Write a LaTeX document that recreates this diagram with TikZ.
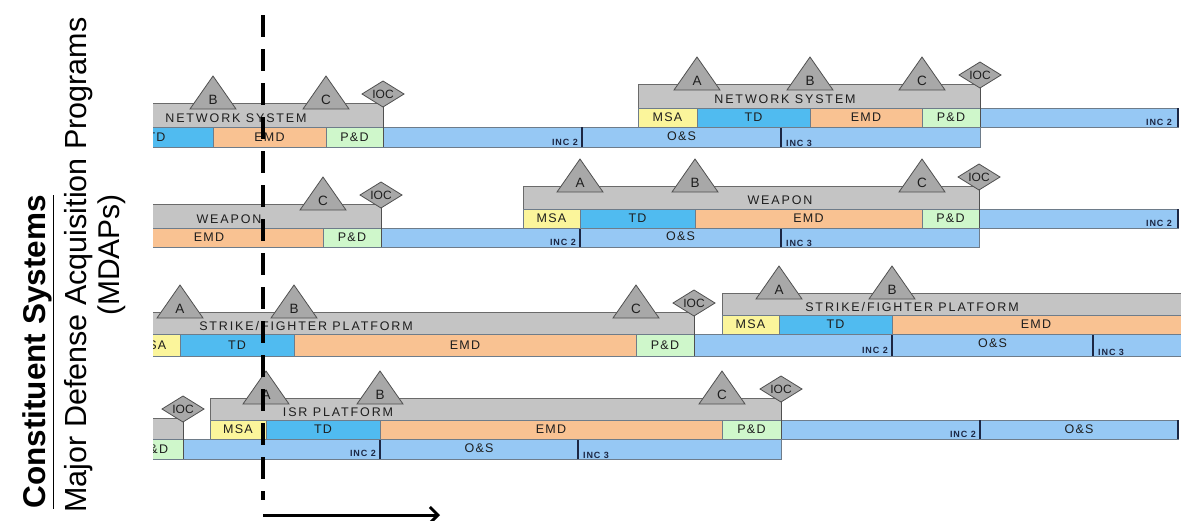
\documentclass[tikz,border=0pt]{standalone}
\usepackage{fontspec}
\setmainfont{Liberation Sans}
\usetikzlibrary{arrows.meta}
\definecolor{grayb}{HTML}{C4C4C4}
\definecolor{grayl}{HTML}{6A6A6A}
\definecolor{trig}{HTML}{A8A8A8}
\definecolor{trid}{HTML}{505050}
\definecolor{msac}{HTML}{FBF59B}
\definecolor{tdc}{HTML}{50BBF0}
\definecolor{emdc}{HTML}{F9C292}
\definecolor{pdc}{HTML}{CFF7CB}
\definecolor{incc}{HTML}{96C8F4}
\definecolor{boxl}{HTML}{6E7C8A}
\definecolor{navy}{HTML}{1C2744}
\definecolor{labc}{HTML}{1E1E1E}
\tikzset{
  graybar/.style={fill=grayb, draw=grayl, line width=0.8pt},
  msa/.style={fill=msac, draw=boxl, line width=0.6pt},
  tdph/.style={fill=tdc, draw=boxl, line width=0.6pt},
  emd/.style={fill=emdc, draw=boxl, line width=0.6pt},
  pdph/.style={fill=pdc, draw=boxl, line width=0.6pt},
  incb/.style={fill=incc, draw=boxl, line width=0.6pt},
  tri/.style={fill=trig, draw=trid, line width=0.8pt},
  dia/.style={fill=trig, draw=trid, line width=0.8pt},
  glab/.style={font=\fontsize{12.5}{12.5}\selectfont\addfontfeatures{LetterSpace=15}, text=labc, inner sep=0pt, anchor=base},
  plab/.style={font=\fontsize{12.5}{12.5}\selectfont\addfontfeatures{LetterSpace=10}, text=labc, inner sep=0pt},
  tlab/.style={font=\fontsize{13.5}{13.5}\selectfont, text=labc, inner sep=0pt},
  ilab/.style={font=\fontsize{12}{12}\selectfont, text=labc, inner sep=0pt},
  inclab/.style={font=\bfseries\fontsize{9}{9}\selectfont\addfontfeatures{LetterSpace=10}, text=navy, inner sep=0pt},
  divline/.style={draw=navy, line width=1.8pt},
  dashline/.style={line width=3.5pt, dash pattern=on 22pt off 12pt},
  sidetext/.style={rotate=90, inner sep=0pt, text=black}
}
\newcommand\phbox[7]{%
  \path[#2] (#3,#4) rectangle (#5,#6);
  \node[plab] (#1) at ({(#3+#5)/2},{(#4+#6)/2}) {#7};}
\newcommand\milestone[4]{%
  \path[tri] (#2-23,#3+6) -- (#2,#3-27) -- (#2+23,#3+6) -- cycle;
  \node[tlab] (#1) at (#2,#3-3) {#4};}
\newcommand\iocmark[4]{%
  \draw[trid, line width=0.9pt] (#2,#3-9) -- (#2,#4);
  \path[dia] (#2-21,#3-9) -- (#2,#3-22) -- (#2+21,#3-9) -- (#2,#3+4) -- cycle;
  \node[ilab] (#1) at (#2,#3-9) {IOC};}
\newcommand\divider[4]{%
  \draw[divline] (#2,#3) -- (#2,#4) coordinate (#1);}
\begin{document}
\begin{tikzpicture}[x=1pt,y=-1pt]
\useasboundingbox (0,0) rectangle (1181,520);
\begin{scope}
\clip (153,0) rectangle (1181,520);
% ---------- Row 1 ----------
\path[incb] (383,127) rectangle (980,147);
\divider{d1a}{582}{127}{147}
\divider{d1b}{781}{127}{147}
\node[inclab, anchor=base east] (r1inc2) at (578,145) {INC 2};
\node[plab] (r1os) at (681.5,136) {O\&S};
\node[inclab, anchor=base west] (r1inc3) at (786,146) {INC 3};
\path[graybar] (100,103) rectangle (383,127);
\node[glab] (r1ln) at (236,122.5) {NETWORK SYSTEM};
\phbox{r1ltd}{tdph}{100}{127}{213}{147}{TD}
\phbox{r1lemd}{emd}{213}{127}{326}{147}{EMD}
\phbox{r1lpd}{pdph}{326}{127}{383}{147}{P\&D}
\milestone{r1lb}{213}{103}{B}
\milestone{r1lc}{326}{103}{C}
\iocmark{r1lioc}{383}{103}{147}
\path[incb] (980,108) rectangle (1178,127);
\draw[navy, line width=1.5pt] (1178,108) -- (1178,127);
\node[inclab, anchor=base east] (r1rinc2) at (1172,125) {INC 2};
\path[graybar] (638,84) rectangle (980,108);
\node[glab] (r1rn) at (785,103.5) {NETWORK SYSTEM};
\phbox{r1rmsa}{msa}{638}{108}{697}{127}{MSA}
\phbox{r1rtd}{tdph}{697}{108}{810}{127}{TD}
\phbox{r1remd}{emd}{810}{108}{922}{127}{EMD}
\phbox{r1rpd}{pdph}{922}{108}{980}{127}{P\&D}
\milestone{r1ra}{697}{84}{A}
\milestone{r1rb}{810}{84}{B}
\milestone{r1rc}{922}{84}{C}
\iocmark{r1rioc}{980}{84}{127}
% ---------- Row 2 ----------
\path[incb] (381,228) rectangle (979,247);
\divider{d2a}{580}{228}{247}
\divider{d2b}{781}{228}{247}
\node[inclab, anchor=base east] (r2inc2) at (576,245) {INC 2};
\node[plab] (r2os) at (680.5,236) {O\&S};
\node[inclab, anchor=base west] (r2inc3) at (786,246) {INC 3};
\path[graybar] (90,204) rectangle (381,228);
\node[glab] (r2ln) at (229,223.5) {WEAPON};
\phbox{r2lemd}{emd}{95}{228}{323}{247}{EMD}
\phbox{r2lpd}{pdph}{323}{228}{381}{247}{P\&D}
\milestone{r2lc}{323}{204}{C}
\iocmark{r2lioc}{381}{204}{247}
\path[incb] (979,209) rectangle (1178,228);
\draw[navy, line width=1.5pt] (1178,209) -- (1178,228);
\node[inclab, anchor=base east] (r2rinc2) at (1172,226) {INC 2};
\path[graybar] (523,186) rectangle (979,209);
\node[glab] (r2rn) at (780,204.5) {WEAPON};
\phbox{r2rmsa}{msa}{523}{209}{580}{228}{MSA}
\phbox{r2rtd}{tdph}{580}{209}{695}{228}{TD}
\phbox{r2remd}{emd}{695}{209}{922}{228}{EMD}
\phbox{r2rpd}{pdph}{922}{209}{979}{228}{P\&D}
\milestone{r2ra}{580}{186}{A}
\milestone{r2rb}{695}{186}{B}
\milestone{r2rc}{922}{186}{C}
\iocmark{r2rioc}{979}{186}{228}
% ---------- Row 3 ----------
\path[incb] (694,334) rectangle (1190,356);
\divider{d3a}{892}{334}{356}
\divider{d3b}{1093}{334}{356}
\node[inclab, anchor=base east] (r3inc2) at (888,353) {INC 2};
\node[plab] (r3os) at (992.5,343) {O\&S};
\node[inclab, anchor=base west] (r3inc3) at (1098,355) {INC 3};
\path[graybar] (100,312) rectangle (694,334);
\node[glab] (r3ln) at (306,330) {STRIKE/FIGHTER PLATFORM};
\phbox{r3lmsa}{msa}{123}{334}{180}{356}{MSA}
\phbox{r3ltd}{tdph}{180}{334}{294}{356}{TD}
\phbox{r3lemd}{emd}{294}{334}{636}{356}{EMD}
\phbox{r3lpd}{pdph}{636}{334}{694}{356}{P\&D}
\milestone{r3la}{180}{312}{A}
\milestone{r3lb}{294}{312}{B}
\milestone{r3lc}{636}{312}{C}
\iocmark{r3lioc}{694}{312}{356}
\path[graybar] (722,293) rectangle (1190,315);
\node[glab] (r3rn) at (912,311) {STRIKE/FIGHTER PLATFORM};
\phbox{r3rmsa}{msa}{722}{315}{779}{334}{MSA}
\phbox{r3rtd}{tdph}{779}{315}{892}{334}{TD}
\path[emd] (892,315) rectangle (1190,334);
\node[plab] (r3remd) at (1036,324.5) {EMD};
\milestone{r3ra}{779}{293}{A}
\milestone{r3rb}{892}{293}{B}
% ---------- Row 4 ----------
\path[incb] (183,439) rectangle (781,459);
\divider{d4a}{380}{439}{459}
\divider{d4b}{578}{439}{459}
\node[inclab, anchor=base east] (r4inc2) at (376,456) {INC 2};
\node[plab] (r4os) at (479,448) {O\&S};
\node[inclab, anchor=base west] (r4inc3) at (583,458) {INC 3};
\path[graybar] (100,418) rectangle (183,439);
\phbox{r4lpd}{pdph}{125}{439}{183}{459}{P\&D}
\iocmark{r4lioc}{183}{418}{459}
\path[incb] (781,420) rectangle (1178,439);
\divider{d4c}{980}{420}{439}
\draw[navy, line width=1.5pt] (1178,420) -- (1178,439);
\node[inclab, anchor=base east] (r4rinc2) at (976,437) {INC 2};
\node[plab] (r4ros) at (1079,429) {O\&S};
\path[graybar] (210,398) rectangle (781,420);
\node[glab] (r4rn) at (338,416) {ISR PLATFORM};
\phbox{r4rmsa}{msa}{210}{420}{266}{439}{MSA}
\phbox{r4rtd}{tdph}{266}{420}{380}{439}{TD}
\phbox{r4remd}{emd}{380}{420}{722}{439}{EMD}
\phbox{r4rpd}{pdph}{722}{420}{781}{439}{P\&D}
\milestone{r4ra}{266}{398}{A}
\milestone{r4rb}{380}{398}{B}
\milestone{r4rc}{722}{398}{C}
\iocmark{r4rioc}{781}{398}{439}
\end{scope}
% ---------- now line and arrow ----------
\coordinate (dtop) at (263,15);
\coordinate (dbot) at (263,500);
\draw[dashline] (dtop) -- (dbot);
\coordinate (a0) at (263,515);
\coordinate (a1) at (440,515);
\draw[line width=3pt, -{Straight Barb[length=8pt,width=16pt]}] (a0) -- (a1);
% ---------- side titles ----------
\node[sidetext, font=\bfseries\fontsize{31.5}{31.5}\selectfont] (t1) at (38,352) {\underline{Constituent Systems}};
\node[sidetext, font=\fontsize{30.5}{30.5}\selectfont] (t2) at (79,265) {Major Defense Acquisition Programs};
\node[sidetext, font=\fontsize{30}{30}\selectfont] (t3) at (112,255) {(MDAPs)};
\end{tikzpicture}
\end{document}
